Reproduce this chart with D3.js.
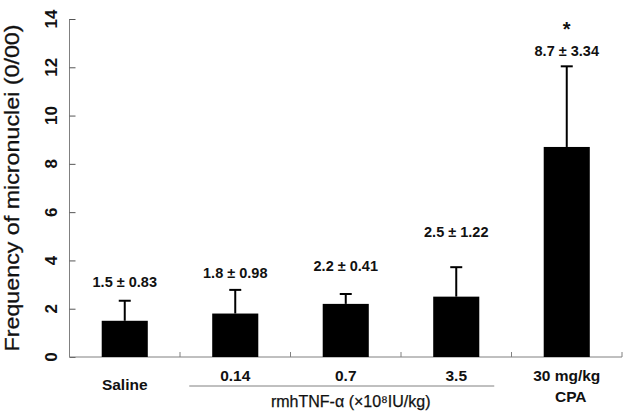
<!DOCTYPE html>
<html>
<head>
<meta charset="utf-8">
<script src="https://cdn.jsdelivr.net/npm/d3@7"></script>
<style>
  html, body { margin: 0; padding: 0; background: #fff; }
  svg { display: block; font-family: Arial, "Liberation Sans", sans-serif; }
</style>
</head>
<body>
<svg id="chart" width="624" height="411"></svg>
<script>
// ---- data ----
const categories = ["Saline", "0.14", "0.7", "3.5", "30 mg/kg"];
const means = [1.5, 1.8, 2.2, 2.5, 8.7];
const sds = [0.83, 0.98, 0.41, 1.22, 3.34];
const valueLabels = ["1.5 \u00b1 0.83", "1.8 \u00b1 0.98", "2.2 \u00b1 0.41", "2.5 \u00b1 1.22", "8.7 \u00b1 3.34"];
const significant = [false, false, false, false, true];
const yTicks = [0, 2, 4, 6, 8, 10, 12, 14];
const yTitle = "Frequency of micronuclei (0/00)";
const groupTitle = "rmhTNF-\u03b1 (\u00d710\u2078IU/kg)";

// ---- layout ----
const svg = d3.select("#chart");
const x = d3.scaleBand().domain(d3.range(categories.length)).range([69.5, 622]).padding(0);
const y = d3.scaleLinear().domain([0, 14]).range([357, 19]);
const barW = x.bandwidth() * 0.417;
const labelAt = [2.9, 3.29, 3.58, 4.95, 12.45]; // annotation heights (data units)
const axisColor = "#808080";
const ink = "#111";

// y axis
const yAxis = svg.append("g").attr("transform", `translate(${x.range()[0]},0)`)
  .call(d3.axisLeft(y).tickValues(yTicks).tickSize(-6).tickFormat(""));
yAxis.select(".domain").attr("stroke", axisColor).attr("d", `M0,${y(14)}V${y(0)}`);
yAxis.selectAll(".tick line").attr("stroke", "#555");

svg.append("g").selectAll("text").data(yTicks).join("text")
  .attr("transform", d => `translate(51,${y(d)}) rotate(-90)`)
  .attr("text-anchor", "middle").attr("dominant-baseline", "central")
  .attr("font-size", 17).attr("font-weight", "bold").attr("fill", ink)
  .text(d => d);

svg.append("text")
  .attr("transform", `translate(11,${(y(0) + y(14)) / 2}) rotate(-90)`)
  .attr("text-anchor", "middle").attr("dominant-baseline", "central")
  .attr("font-size", 21).attr("fill", ink).attr("stroke", ink).attr("stroke-width", 0.3)
  .attr("textLength", 327).attr("lengthAdjust", "spacingAndGlyphs")
  .text(yTitle);

// x axis
const xAxisG = svg.append("g");
xAxisG.append("line").attr("x1", x.range()[0]).attr("x2", x.range()[1])
  .attr("y1", y(0)).attr("y2", y(0)).attr("stroke", axisColor).attr("stroke-width", 1);
xAxisG.selectAll("line.sep").data(d3.range(1, categories.length + 1)).join("line")
  .attr("class", "sep")
  .attr("x1", i => x(i - 1) + x.bandwidth()).attr("x2", i => x(i - 1) + x.bandwidth())
  .attr("y1", y(0)).attr("y2", y(0) - 5).attr("stroke", axisColor);

// bars
svg.append("g").selectAll("rect").data(means).join("rect")
  .attr("x", (d, i) => x(i) + (x.bandwidth() - barW) / 2)
  .attr("width", barW)
  .attr("y", d => y(d)).attr("height", d => y(0) - y(d))
  .attr("fill", "#000");

// error bars (upper only)
const eb = svg.append("g").attr("stroke", "#000").attr("stroke-width", 2);
eb.selectAll("line.v").data(means).join("line").attr("class", "v")
  .attr("x1", (d, i) => x(i) + x.bandwidth() / 2).attr("x2", (d, i) => x(i) + x.bandwidth() / 2)
  .attr("y1", d => y(d)).attr("y2", (d, i) => y(d + sds[i]));
eb.selectAll("line.c").data(means).join("line").attr("class", "c")
  .attr("x1", (d, i) => x(i) + x.bandwidth() / 2 - 6).attr("x2", (d, i) => x(i) + x.bandwidth() / 2 + 6)
  .attr("y1", (d, i) => y(d + sds[i])).attr("y2", (d, i) => y(d + sds[i]));

// value labels
svg.append("g").selectAll("text").data(valueLabels).join("text")
  .attr("x", (d, i) => x(i) + x.bandwidth() / 2)
  .attr("y", (d, i) => y(labelAt[i]))
  .attr("text-anchor", "middle").attr("font-size", 14.5).attr("font-weight", "bold").attr("fill", ink)
  .text(d => d);

svg.append("g").selectAll("text").data(significant.map((s, i) => ({s, i})).filter(d => d.s)).join("text")
  .attr("x", d => x(d.i) + x.bandwidth() / 2)
  .attr("y", d => y(labelAt[d.i]) - 20)
  .attr("text-anchor", "middle").attr("font-size", 20).attr("font-weight", "bold").attr("fill", ink)
  .text("*");

// category labels
const catY = [384, 375, 375, 375, 375];
svg.append("g").selectAll("text").data(categories).join("text")
  .attr("x", (d, i) => x(i) + x.bandwidth() / 2)
  .attr("y", (d, i) => catY[i])
  .attr("text-anchor", "middle").attr("dominant-baseline", "central")
  .attr("font-size", 15.5).attr("font-weight", "bold").attr("fill", ink)
  .text(d => d);
svg.append("text")
  .attr("x", x(4) + x.bandwidth() / 2 + 4).attr("y", 396)
  .attr("text-anchor", "middle").attr("dominant-baseline", "central")
  .attr("font-size", 15.5).attr("font-weight", "bold").attr("fill", ink)
  .text("CPA");

// group bracket line + title
svg.append("line").attr("x1", x(1) + x.bandwidth() / 2 - 46).attr("x2", x(3) + x.bandwidth() / 2 + 38)
  .attr("y1", 386).attr("y2", 386).attr("stroke", axisColor).attr("stroke-width", 1);
svg.append("text")
  .attr("x", x(2) + x.bandwidth() / 2 + 5).attr("y", 401)
  .attr("text-anchor", "middle").attr("dominant-baseline", "central")
  .attr("font-size", 16).attr("fill", ink).attr("stroke", ink).attr("stroke-width", 0.25)
  .text(groupTitle);
</script>
</body>
</html>
